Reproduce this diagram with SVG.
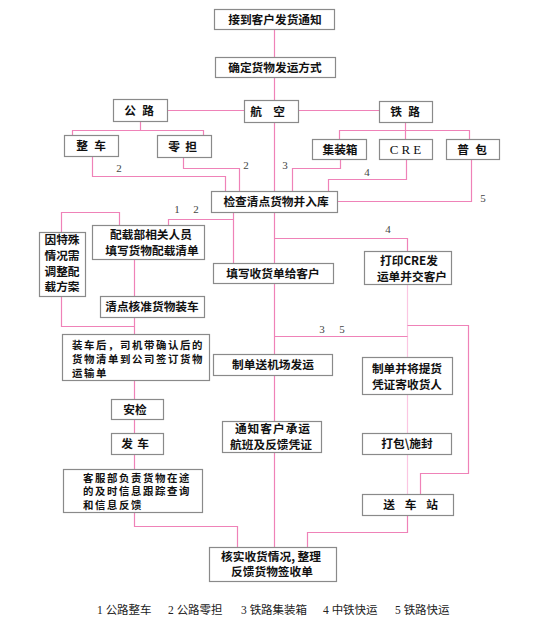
<svg xmlns="http://www.w3.org/2000/svg" width="550" height="631" viewBox="0 0 550 631">
<style>
.b{fill:#fff;stroke:#8a8a8a;stroke-width:1.2}
.t{font-family:"Noto Sans CJK SC","Liberation Sans",sans-serif;font-size:11.7px;font-weight:bold;fill:#111;text-anchor:middle}
.tl{font-family:"Noto Sans CJK SC","Liberation Sans",sans-serif;font-size:10.4px;font-weight:bold;fill:#111;letter-spacing:1.6px}
.n{font-family:"Liberation Serif",serif;font-size:11px;fill:#444;text-anchor:middle}
.lg{font-family:"Liberation Serif","Noto Sans CJK SC",serif;font-size:11.5px;fill:#222}
.c{fill:none;stroke:#ef82b8;stroke-width:1.2}
.cl{fill:none;stroke:#fbc6e2;stroke-width:1.2}
</style>
<rect width="550" height="631" fill="#fff"/>
<g id="connectors">
<path class="c" d="M274.5 29V547"/>
<path class="c" d="M167 110.5H244M298 110.5H379"/>
<path class="c" d="M140.5 121V130.5M72.5 135V130.5H203.5V135"/>
<path class="c" d="M405.5 122V139M339.5 139V130.5H469.5V139"/>
<path class="c" d="M92.5 156V176.5H225.5V191"/>
<path class="c" d="M183.5 157V168.5H239.5V191"/>
<path class="c" d="M340.5 159V168.5H292.5V191"/>
<path class="c" d="M406.5 159V179.5H328.5V191"/>
<path class="c" d="M471.5 159V201.5H337"/>
<path class="c" d="M233.5 212V263M233.5 219.5H168.5V225"/>
<path class="c" d="M61.5 232V212.5H119.5V225"/>
<path class="c" d="M61.5 296V326.5H134.5"/>
<path class="c" d="M134.5 259V296M134.5 317V334M134.5 380V399M134.5 419V433M134.5 454V469"/>
<path class="c" d="M134.5 512V526.5H237.5V547"/>
<path class="c" d="M274.5 238.5H407.5V251"/>
<path class="cl" d="M407.5 284V357M407.5 394V433M407.5 454V494"/>
<path class="c" d="M274.5 336.5H407.5"/>
<path class="c" d="M407.5 325.5H468.5V473.5H420.5V494"/>
<path class="c" d="M407.5 515V532.5H307.5V547"/>
<text class="n" x="119" y="172">2</text>
<text class="n" x="246" y="169">2</text>
<text class="n" x="285" y="169">3</text>
<text class="n" x="367" y="176">4</text>
<text class="n" x="483" y="202">5</text>
<text class="n" x="177" y="213">1</text>
<text class="n" x="196" y="213">2</text>
<text class="n" x="388" y="233">4</text>
<text class="n" x="322" y="333">3</text>
<text class="n" x="342" y="333">5</text>
</g>
<g id="n1"><rect class="b" x="214.5" y="9.5" width="120" height="20"/><text class="t" x="275" y="23.5">接到客户发货通知</text></g>
<g id="n2"><rect class="b" x="215.5" y="57.5" width="120" height="20"/><text class="t" x="275" y="71.5">确定货物发运方式</text></g>
<g id="n3"><rect class="b" x="113.5" y="99.5" width="54" height="22"/><text class="t" x="130 148" y="114.5">公路</text></g>
<g id="n4"><rect class="b" x="244.5" y="100.5" width="54" height="22"/><text class="t" x="256 279" y="115.5">航空</text></g>
<g id="n5"><rect class="b" x="379.5" y="101.5" width="53" height="21"/><text class="t" x="396 414" y="116">铁路</text></g>
<g id="n6"><rect class="b" x="64.5" y="135.5" width="54" height="21"/><text class="t" x="82 100" y="150">整车</text></g>
<g id="n7"><rect class="b" x="157.5" y="135.5" width="54" height="22"/><text class="t" x="174 191" y="150.5">零担</text></g>
<g id="n8"><rect class="b" x="312.5" y="139.5" width="54" height="20"/><text class="t" x="340" y="153.5">集装箱</text></g>
<g id="n9"><rect class="b" x="379.5" y="139.5" width="53" height="20"/><text class="n" style="font-size:13px;fill:#111;letter-spacing:3px" x="407" y="154">CRE</text></g>
<g id="n10"><rect class="b" x="446.5" y="139.5" width="53" height="20"/><text class="t" x="463 481" y="153.5">普包</text></g>
<g id="n11"><rect class="b" x="211.5" y="191.5" width="126" height="21"/><text class="t" x="276" y="206">检查清点货物并入库</text></g>
<g id="n12"><rect class="b" x="39.5" y="232.5" width="46" height="64"/><text class="t" x="62" y="244">因特殊</text><text class="t" x="62" y="259.5">情况需</text><text class="t" x="62" y="275.5">调整配</text><text class="t" x="62" y="291">载方案</text></g>
<g id="n13"><rect class="b" x="92.5" y="225.5" width="112" height="34"/><text class="t" x="151" y="239">配载部相关人员</text><text class="t" x="152" y="254.5">填写货物配载清单</text></g>
<g id="n14"><rect class="b" x="213.5" y="263.5" width="120" height="20"/><text class="t" x="273" y="277.5">填写收货单给客户</text></g>
<g id="n15"><rect class="b" x="364.5" y="251.5" width="87" height="33"/><text class="t" x="409" y="265">打印CRE发</text><text class="t" x="412" y="280.5">运单并交客户</text></g>
<g id="n16"><rect class="b" x="100.5" y="296.5" width="104" height="21"/><text class="t" x="152" y="311">清点核准货物装车</text></g>
<g id="n17"><rect class="b" x="62.5" y="334.5" width="147" height="46"/><text class="tl" x="72" y="348.5">装车后，司机带确认后的</text><text class="tl" x="72" y="362.5">货物清单到公司签订货物</text><text class="tl" x="72" y="376.5">运输单</text></g>
<g id="n18"><rect class="b" x="213.5" y="354.5" width="119" height="21"/><text class="t" x="273" y="369">制单送机场发运</text></g>
<g id="n19"><rect class="b" x="362.5" y="357.5" width="90" height="37"/><text class="t" x="407" y="372.5">制单并将提货</text><text class="t" x="407" y="389">凭证寄收货人</text></g>
<g id="n20"><rect class="b" x="111.5" y="399.5" width="52" height="20"/><text class="t" x="135" y="413.5">安检</text></g>
<g id="n21"><rect class="b" x="222.5" y="421.5" width="99" height="31"/><text class="t" x="273" y="432.5" letter-spacing="1">通知客户承运</text><text class="t" x="271" y="449">航班及反馈凭证</text></g>
<g id="n22"><rect class="b" x="111.5" y="433.5" width="52" height="21"/><text class="t" x="127 143" y="448">发车</text></g>
<g id="n23"><rect class="b" x="362.5" y="433.5" width="89" height="21"/><text class="t" x="407" y="448">打包\施封</text></g>
<g id="n24"><rect class="b" x="63.5" y="469.5" width="139" height="43"/><text class="tl" x="83" y="481.5">客服部负责货物在途</text><text class="tl" x="83" y="495">的及时信息跟踪查询</text><text class="tl" x="83" y="508.5">和信息反馈</text></g>
<g id="n25"><rect class="b" x="362.5" y="494.5" width="91" height="21"/><text class="t" x="389 410.5 432" y="509">送车站</text></g>
<g id="n26"><rect class="b" x="209.5" y="547.5" width="127" height="34"/><text class="t" x="271" y="560.5">核实收货情况, 整理</text><text class="t" x="272" y="576">反馈货物签收单</text></g>
<g id="legend">
<text class="lg" x="97" y="614">1 公路整车</text>
<text class="lg" x="168" y="614">2 公路零担</text>
<text class="lg" x="241" y="614">3 铁路集装箱</text>
<text class="lg" x="323" y="614">4 中铁快运</text>
<text class="lg" x="395" y="614">5 铁路快运</text>
</g>
</svg>
